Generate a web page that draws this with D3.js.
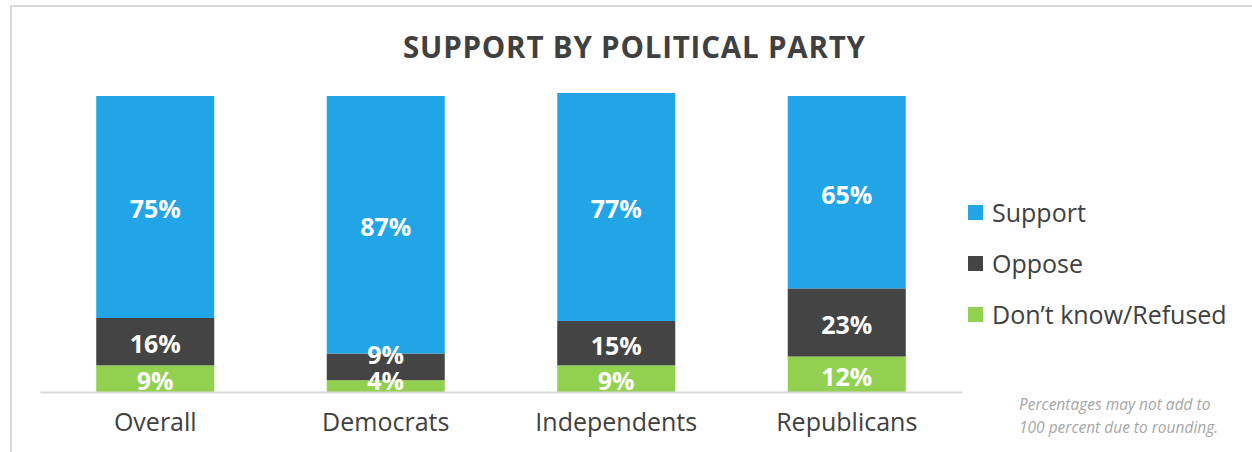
<!DOCTYPE html>
<html>
<head>
<meta charset="utf-8">
<script src="https://cdn.jsdelivr.net/npm/d3@7"></script>
<style>
  html, body { margin: 0; padding: 0; background: #ffffff; }
  svg { display: block; }
</style>
</head>
<body>
<svg id="chart" width="1252" height="452"></svg>
<script>
// Survey results by political party (percent)
const categories = ["Overall", "Democrats", "Independents", "Republicans"];
const seriesNames = ["Support", "Oppose", "Don\u2019t know/Refused"];
const support = [75, 87, 77, 65];
const oppose = [16, 9, 15, 23];
const dontKnow = [9, 4, 9, 12];
const titleText = "SUPPORT BY POLITICAL PARTY";
const noteLines = ["Percentages may not add to", "100 percent due to rounding."];

const colors = { "Support": "#21a5e7", "Oppose": "#444444", "Don\u2019t know/Refused": "#92d050" };

const svg = d3.select("#chart");
const fontFamily = "'Open Sans', 'Noto Sans', sans-serif";

// outer frame (runs past the right and bottom edges)
svg.append("rect")
  .attr("x", 11).attr("y", 6)
  .attr("width", 1300).attr("height", 500)
  .attr("fill", "#ffffff")
  .attr("stroke", "#d9d9d9").attr("stroke-width", 2);

// title
svg.append("text")
  .attr("x", 634).attr("y", 58)
  .attr("text-anchor", "middle")
  .attr("font-family", fontFamily)
  .attr("font-weight", 700)
  .attr("font-size", 29.5)
  .attr("textLength", 462)
  .attr("lengthAdjust", "spacing")
  .attr("fill", "#404040")
  .text(titleText);

// rows for stacking, bottom to top: Don't know, Oppose, Support
const rows = categories.map((c, i) => ({
  category: c,
  "Support": support[i],
  "Oppose": oppose[i],
  "Don\u2019t know/Refused": dontKnow[i]
}));
const stackOrder = ["Don\u2019t know/Refused", "Oppose", "Support"];
const stacked = d3.stack().keys(stackOrder)(rows);

const x = d3.scaleBand()
  .domain(categories)
  .range([40, 962])
  .paddingInner(0.488)
  .paddingOuter(0.244);

const y = d3.scaleLinear().domain([0, 100]).range([392, 96]);

// bars
const layers = svg.append("g").selectAll("g")
  .data(stacked)
  .join("g")
  .attr("fill", d => colors[d.key]);

layers.selectAll("rect")
  .data(d => d.map(s => ({ key: d.key, s })))
  .join("rect")
  .attr("x", d => x(d.s.data.category))
  .attr("width", x.bandwidth())
  .attr("y", d => y(d.s[1]))
  .attr("height", d => y(d.s[0]) - y(d.s[1]));

// category axis
const xAxis = d3.axisBottom(x).tickSize(0).tickPadding(0);
const axisG = svg.append("g")
  .attr("transform", `translate(0, ${y(0)})`)
  .call(xAxis);
axisG.select(".domain")
  .attr("stroke", "#d9d9d9").attr("stroke-width", 2);
axisG.selectAll(".tick text")
  .attr("y", 39)
  .attr("dy", 0)
  .attr("font-family", fontFamily)
  .attr("font-size", 25)
  .attr("fill", "#404040");

// value labels, centred in each segment and nudged apart when segments are thin
const labelSize = 25;
const labels = [];
categories.forEach((c, i) => {
  let prev = Infinity;
  stacked.forEach(layer => {
    const s = layer[i];
    let cy = (y(s[0]) + y(s[1])) / 2 + 2.5;
    cy = Math.min(cy, y(0) - 10.5, prev - 26);
    prev = cy;
    labels.push({ category: c, value: s[1] - s[0], cy });
  });
});

svg.append("g").selectAll("text")
  .data(labels)
  .join("text")
  .attr("x", d => x(d.category) + x.bandwidth() / 2)
  .attr("y", d => d.cy + labelSize * 0.357)
  .attr("text-anchor", "middle")
  .attr("font-family", fontFamily)
  .attr("font-weight", 700)
  .attr("font-size", labelSize)
  .attr("fill", "#ffffff")
  .text(d => d.value + "%");

// legend
const legend = svg.append("g").selectAll("g")
  .data(seriesNames)
  .join("g")
  .attr("transform", (d, i) => `translate(968, ${205 + i * 51})`);
legend.append("rect")
  .attr("width", 15).attr("height", 15)
  .attr("fill", d => colors[d]);
legend.append("text")
  .attr("x", 24).attr("y", 16.5)
  .attr("font-family", fontFamily)
  .attr("font-size", 25)
  .attr("fill", "#404040")
  .text(d => d);

// footnote
svg.append("g").selectAll("text")
  .data(noteLines)
  .join("text")
  .attr("x", 1019)
  .attr("y", (d, i) => 410 + i * 22.5)
  .attr("font-family", fontFamily)
  .attr("font-style", "italic")
  .attr("font-size", 15.5)
  .attr("fill", "#a6a6a6")
  .text(d => d);
</script>
</body>
</html>
